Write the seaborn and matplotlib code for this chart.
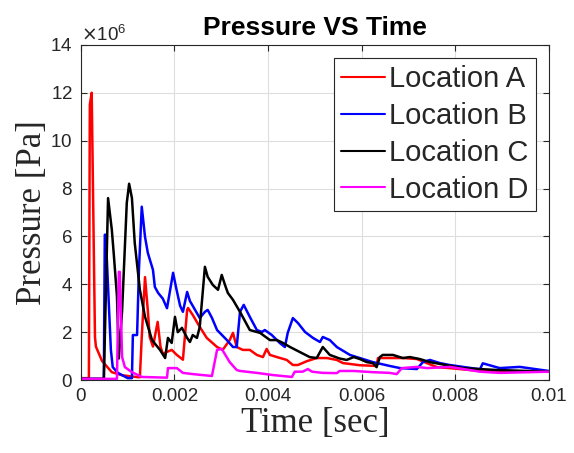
import numpy as np
import pandas as pd
import seaborn as sns
import matplotlib
matplotlib.use("Agg")
import matplotlib.pyplot as plt
from matplotlib.ticker import ScalarFormatter, FuncFormatter, MultipleLocator

# valores (tiempo en ms, presion en MPa)
t_a = [0, 0.17, 0.19, 0.23, 0.30, 0.32, 0.45, 0.66, 0.88, 1.22, 1.26, 1.30, 1.37, 1.43, 1.47,
       1.54, 1.64, 1.70, 1.75, 1.94, 2.05, 2.18, 2.27, 2.29, 2.39, 2.54, 2.69, 2.91, 3.03, 3.18,
       3.25, 3.33, 3.46, 3.61, 3.76, 3.89, 3.97, 4.04, 4.19, 4.40, 4.53, 4.64, 4.83, 5.04, 5.26,
       5.47, 5.60, 5.96, 6.32, 6.35, 6.60, 6.88, 7.18, 7.39, 7.61, 7.88, 8.31, 8.95, 10.0]
p_a = [0.08, 0.08, 11.5, 12.0, 1.8, 1.4, 0.8, 0.33, 0.2, 0.12, 0.12, 1.8, 4.3, 2.9, 1.8,
       1.4, 2.43, 1.4, 1.1, 1.26, 1.05, 0.85, 2.93, 3.01, 2.72, 2.22, 1.76, 1.38, 1.26, 1.67,
       1.97, 1.38, 1.26, 1.26, 1.05, 0.96, 1.3, 1.05, 0.96, 0.84, 0.63, 0.63, 0.79, 0.92, 0.92,
       0.84, 0.71, 0.62, 0.59, 0.92, 0.92, 0.92, 0.88, 0.71, 0.54, 0.5, 0.42, 0.38, 0.35]

t_b = [0, 0.49, 0.51, 0.53, 0.64, 0.68, 0.79, 1.00, 1.09, 1.11, 1.20, 1.24, 1.30, 1.37, 1.43,
       1.54, 1.58, 1.65, 1.75, 1.84, 1.97, 2.03, 2.12, 2.18, 2.27, 2.33, 2.39, 2.54, 2.65, 2.71,
       2.80, 2.91, 3.12, 3.25, 3.33, 3.40, 3.48, 3.61, 3.76, 3.87, 3.93, 4.08, 4.25, 4.36, 4.42,
       4.53, 4.64, 4.79, 4.96, 5.11, 5.17, 5.32, 5.47, 5.75, 5.96, 6.24, 6.60, 6.82, 7.18, 7.31,
       7.46, 7.67, 7.88, 8.53, 8.59, 8.68, 8.95, 9.38, 10.0]
p_b = [0.05, 0.05, 6.07, 6.07, 1.26, 0.54, 0.3, 0.08, 0.08, 1.88, 1.88, 4.6, 7.24, 5.98, 5.31,
       4.6, 3.89, 3.64, 3.4, 3.0, 4.48, 3.9, 3.1, 2.85, 3.68, 3.3, 3.1, 2.59, 2.85, 2.93,
       2.6, 2.09, 1.67, 1.38, 1.38, 2.85, 3.14, 2.64, 2.09, 2.01, 2.09, 1.88, 1.55, 1.38, 1.97,
       2.59, 2.38, 2.01, 1.76, 1.59, 1.8, 1.67, 1.38, 1.05, 0.92, 0.75, 0.59, 0.5, 0.46, 0.75,
       0.84, 0.71, 0.63, 0.45, 0.7, 0.65, 0.5, 0.55, 0.38]

t_c = [0, 0.49, 0.58, 0.66, 0.70, 0.77, 0.81, 0.88, 0.98, 1.03, 1.09, 1.15, 1.26, 1.37, 1.52,
       1.69, 1.80, 1.86, 1.94, 2.01, 2.07, 2.16, 2.27, 2.33, 2.39, 2.48, 2.54, 2.65, 2.71, 2.82,
       2.93, 3.01, 3.08, 3.14, 3.25, 3.40, 3.61, 3.83, 4.04, 4.19, 4.32, 4.47, 4.68, 4.89, 5.04,
       5.11, 5.17, 5.32, 5.53, 5.68, 5.83, 5.96, 6.11, 6.24, 6.32, 6.39, 6.45, 6.67, 6.88, 7.03,
       7.24, 7.46, 7.88, 8.16, 8.89, 10.0]
p_c = [0.05, 0.05, 7.6, 6.28, 5.31, 3.5, 0.9, 2.9, 7.4, 8.2, 7.6, 5.73, 3.77, 2.64, 1.67,
       1.26, 0.92, 1.76, 1.55, 2.64, 2.0, 2.18, 1.76, 1.59, 1.88, 1.76, 2.22, 4.73, 4.31, 3.97,
       3.77, 4.39, 3.97, 3.64, 3.35, 2.85, 2.09, 1.97, 1.67, 1.67, 1.55, 1.38, 1.17, 0.96, 0.92,
       1.17, 1.38, 1.05, 0.9, 0.84, 0.96, 0.88, 0.75, 0.71, 0.54, 0.96, 1.05, 1.05, 0.92, 0.96,
       0.88, 0.75, 0.6, 0.5, 0.42, 0.35]

t_d = [0, 0.77, 0.81, 0.83, 0.88, 0.94, 1.09, 1.30, 1.84, 1.86, 2.05, 2.18, 2.39, 2.80, 2.91,
       3.01, 3.18, 3.33, 3.40, 3.76, 4.10, 4.51, 4.57, 4.74, 4.85, 4.94, 5.17, 5.47, 5.53, 5.83,
       6.24, 6.60, 6.75, 6.86, 7.18, 7.40, 7.89, 8.53, 8.95, 10.0]
p_d = [0.05, 0.05, 4.52, 4.52, 0.96, 0.54, 0.33, 0.13, 0.1, 0.5, 0.5, 0.3, 0.25, 0.17, 1.26,
       1.3, 0.75, 0.42, 0.38, 0.3, 0.21, 0.13, 0.35, 0.35, 0.46, 0.35, 0.3, 0.29, 0.38, 0.38,
       0.33, 0.3, 0.25, 0.5, 0.55, 0.5, 0.55, 0.35, 0.3, 0.35]

locations = ["Location A", "Location B", "Location C", "Location D"]
colores = {"Location A": "#ff0000", "Location B": "#0000ff",
           "Location C": "#000000", "Location D": "#ff00ff"}

series = [(t_a, p_a), (t_b, p_b), (t_c, p_c), (t_d, p_d)]
frames = []
for loc, (t, p) in zip(locations, series):
    frames.append(pd.DataFrame({"Time": np.array(t) * 1e-3,
                                "Pressure": np.array(p) * 1e6,
                                "Location": loc}))
df = pd.concat(frames, ignore_index=True)

sns.set_theme(style="whitegrid")
plt.rcParams['font.family'] = ['Liberation Sans', 'DejaVu Sans']

fig = plt.figure(figsize=(5.74, 4.53), dpi=100)
ax = fig.add_axes([0.141, 0.161, 0.815, 0.740])

sns.lineplot(data=df, x="Time", y="Pressure", hue="Location", hue_order=locations,
             palette=colores, estimator=None, sort=False, linewidth=1.8, ax=ax)

ax.set_xlim(0, 0.01)
ax.set_ylim(0, 14e6)
ax.xaxis.set_major_locator(MultipleLocator(0.002))
ax.yaxis.set_major_locator(MultipleLocator(2e6))
ax.xaxis.set_major_formatter(FuncFormatter(lambda v, pos: "%g" % round(v, 6)))
fmt = ScalarFormatter(useMathText=True)
fmt.set_powerlimits((6, 6))
ax.yaxis.set_major_formatter(fmt)
ax.yaxis.get_offset_text().set_fontsize(13.5)
ax.yaxis.get_offset_text().set_color("#262626")

ax.set_facecolor("white")
ax.grid(True, color="#dedede", linewidth=0.8)
for s in ax.spines.values():
    s.set_visible(True)
    s.set_color("#262626")
    s.set_linewidth(0.8)
ax.tick_params(direction="in", length=4, width=0.8, colors="#262626",
               labelsize=13.5, top=True, right=True, bottom=True, left=True, pad=6)
for lbl in ax.get_xticklabels() + ax.get_yticklabels():
    lbl.set_color("#262626")

ax.set_title("Pressure VS Time", fontsize=19, fontweight="bold", color="black", pad=7)
ax.set_xlabel("Time [sec]", family="Liberation Serif", fontsize=25, color="#262626", labelpad=1)
ax.set_ylabel("Pressure [Pa]", family="Liberation Serif", fontsize=25, color="#262626", labelpad=1)

handles, labels = ax.get_legend_handles_labels()
leg = ax.legend(handles, labels, loc="upper right", fontsize=21, frameon=True, fancybox=False,
                edgecolor="#262626", framealpha=1, handlelength=1.5, handletextpad=0.15,
                borderpad=0.25, labelspacing=0.3, borderaxespad=0.45)
leg.get_frame().set_linewidth(0.8)
for h in leg.get_lines():
    h.set_linewidth(1.5)

fig.savefig("out.png", dpi=100)
plt.close(fig)
